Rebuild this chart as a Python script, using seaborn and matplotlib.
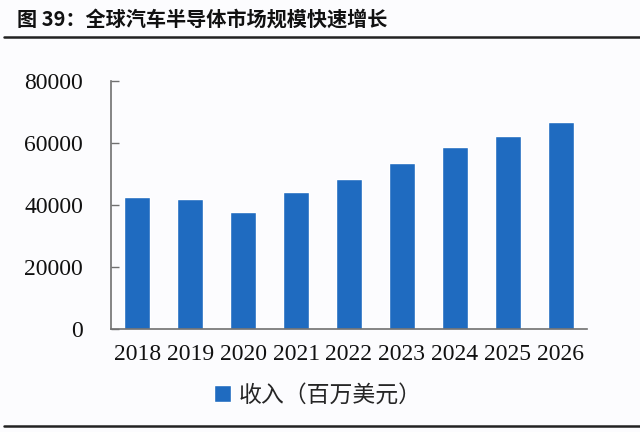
import matplotlib
matplotlib.use('Agg')
import matplotlib.pyplot as plt
import seaborn as sns
import pandas as pd
from matplotlib.lines import Line2D

# 数据
years = ['2018', '2019', '2020', '2021', '2022', '2023', '2024', '2025', '2026']
revenue = [42500, 41800, 37600, 44300, 48400, 53600, 58800, 62300, 66900]
series_name = '收入（百万美元）'
title = '图 39：全球汽车半导体市场规模快速增长'
yticks = [0, 20000, 40000, 60000, 80000]

bar_color = '#1F6BC0'
bg = '#FCFCFE'

sns.set_style('white')
plt.rcParams['font.family'] = ['Noto Sans CJK SC', 'DejaVu Sans']

df = pd.DataFrame({'year': years, 'revenue': revenue})

fig = plt.figure(figsize=(6.4, 4.32), dpi=100, facecolor=bg)
ax = fig.add_axes([111 / 640, 1 - 329 / 432, 476 / 640, 248 / 432])
ax.set_facecolor(bg)

sns.barplot(data=df, x='year', y='revenue', color=bar_color, width=0.49,
            saturation=1, label=series_name, ax=ax)

ax.set_xlim(-0.5, 8.5)
ax.set_ylim(0, 80000)
ax.set_yticks(yticks)
ax.set_xlabel('')
ax.set_ylabel('')

for s in ['top', 'right']:
    ax.spines[s].set_visible(False)
for s in ['left', 'bottom']:
    ax.spines[s].set_color('#707070')
    ax.spines[s].set_linewidth(1.2)

ax.tick_params(axis='y', direction='in', length=6, width=1, color='#707070',
               pad=20, left=True)
ax.tick_params(axis='x', length=0, pad=11)
for lab in ax.get_xticklabels() + ax.get_yticklabels():
    lab.set_fontfamily('Liberation Serif')
    lab.set_fontsize(17)
    lab.set_color('#111111')

if ax.get_legend() is not None:
    ax.get_legend().remove()
handles, labels = ax.get_legend_handles_labels()
fig.legend(handles, labels, loc='center left', bbox_to_anchor=(193 / 640, 1 - 395 / 432),
           frameon=False, handlelength=0.75, handleheight=0.75, handletextpad=0.35,
           prop={'family': ['Noto Sans CJK SC', 'DejaVu Sans'], 'size': 16.5})

fig.text(17 / 640, 1 - 19 / 432, title, fontsize=14.5, fontweight='bold',
         va='center', ha='left', color='#111111')

fig.add_artist(Line2D([4 / 640, 1], [1 - 37 / 432] * 2, color='#222222', lw=1.8))
fig.add_artist(Line2D([4 / 640, 1], [1 - 426 / 432] * 2, color='#222222', lw=1.8))

fig.savefig('out.png', dpi=100, facecolor=bg)
